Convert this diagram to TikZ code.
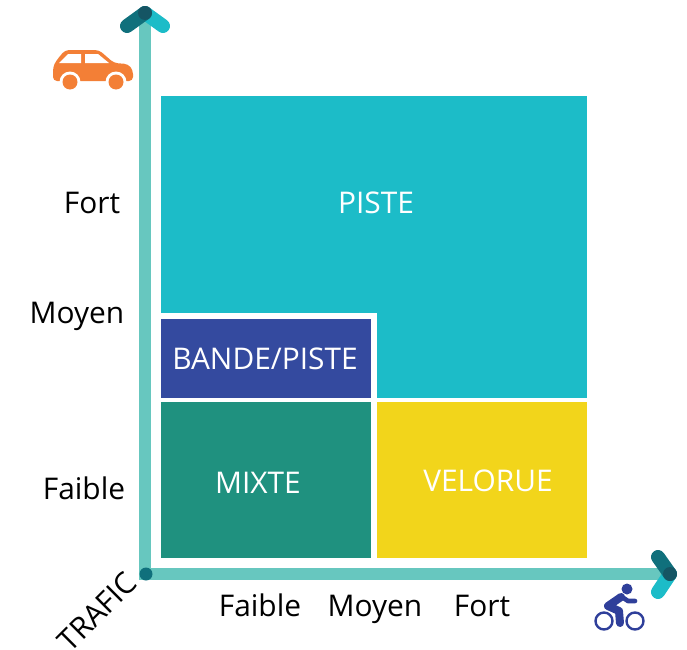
\documentclass[tikz,border=0pt]{standalone}
\usepackage{fontspec}
\setmainfont{Open Sans}
\definecolor{cyanbox}{HTML}{1CBCC8}
\definecolor{bluebox}{HTML}{344A9F}
\definecolor{greenbox}{HTML}{1F917F}
\definecolor{yellowbox}{HTML}{F2D51B}
\definecolor{axiscol}{HTML}{67C7BF}
\definecolor{darktip}{HTML}{10707C}
\definecolor{overlap}{HTML}{155564}
\definecolor{cartint}{HTML}{F37F36}
\definecolor{biketint}{HTML}{2F3F9A}
\tikzset{
  x=0.75pt,y=-0.75pt,
  boxlabel/.style={text=white,font=\fontsize{22.4}{22}\selectfont,inner sep=0pt,anchor=base},
  axislabel/.style={text=black,font=\fontsize{22.4}{22}\selectfont,inner sep=0pt,anchor=base},
  axisline/.style={axiscol,line width=8.5pt},
  tiparm/.style={line width=10.5pt,line cap=round},
}
\begin{document}
\begin{tikzpicture}
\useasboundingbox (0,0) rectangle (687,650);
% zones
\fill[cyanbox] (161,96) rectangle (587,398);
\fill[white] (161,313) rectangle (377,402);
\fill[bluebox] (161,319) rectangle (371,398);
\fill[greenbox] (161,402) rectangle (371,558);
\fill[yellowbox] (377,402) rectangle (587,558);
% axes
\coordinate (origin) at (145,574);
\coordinate (ytip) at (145,13);
\coordinate (xtip) at (670,574);
\coordinate (yl) at (127,26);
\coordinate (yr) at (163,26);
\coordinate (xu) at (658,557);
\coordinate (xd) at (658,592);
\draw[axisline] (145,20) -- (origin) -- (663,574);
\fill[darktip] (146,574) circle[radius=6.5];
\draw[tiparm,cyanbox] (yr) -- (ytip);
\draw[tiparm,darktip] (yl) -- (ytip);
\fill[overlap] (ytip) circle[radius=7];
\draw[tiparm,cyanbox] (xd) -- (xtip);
\draw[tiparm,darktip] (xu) -- (xtip);
\fill[overlap] (xtip) circle[radius=7];
% car
\fill[cartint,rounded corners=3pt] (53,67) -- (56,61) -- (65,50) -- (99,50) -- (114,63) -- (128,64) -- (133,70) -- (133,81) -- (53,81) -- cycle;
\fill[white] (59,63) -- (68,54) -- (81,54) -- (81,63) -- cycle;
\fill[white] (85,54) -- (98,54) -- (109,63) -- (85,63) -- cycle;
\fill[white] (70,82) circle[radius=10.5] (116,82) circle[radius=10.5];
\fill[white] (50,82) rectangle (136,92);
\fill[cartint] (70,82) circle[radius=7.5] (116,82) circle[radius=7.5];
% bike
\draw[biketint,line width=1.8pt] (604,621) circle[radius=8.5] (635,621) circle[radius=8.5];
\fill[biketint] (627,589) circle[radius=5.5];
\draw[biketint,line width=6pt,line cap=round,line join=round] (621,597) -- (608,606) -- (619,611) -- (620,623);
\draw[biketint,line width=3.5pt,line cap=round,line join=round] (622,597) -- (628,601) -- (635,601);
% box labels
\node[boxlabel] (piste) at (376,213) {PISTE};
\node[boxlabel] (bande) at (265,369) {BANDE/PISTE};
\node[boxlabel] (mixte) at (258,493) {MIXTE};
\node[boxlabel] (velorue) at (488,491) {VELORUE};
% axis labels
\node[axislabel] (yfort) at (92,213) {Fort};
\node[axislabel] (ymoyen) at (77,323) {Moyen};
\node[axislabel] (yfaible) at (84,499) {Faible};
\node[axislabel] (xfaible) at (260,616) {Faible};
\node[axislabel] (xmoyen) at (375,616) {Moyen};
\node[axislabel] (xfort) at (482,616) {Fort};
\node[axislabel,rotate=45,anchor=center] (trafic) at (97,612) {TRAFIC};
\end{tikzpicture}
\end{document}
